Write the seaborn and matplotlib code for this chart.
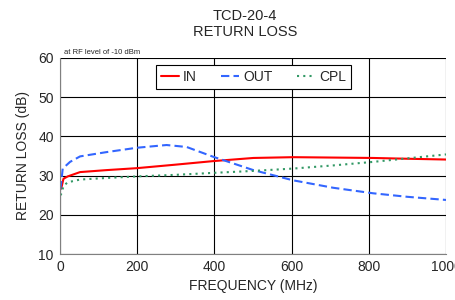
import pandas as pd
import matplotlib.pyplot as plt
import seaborn as sns

# values
freq_in = [1, 4, 9, 20, 52, 120, 199, 300, 397, 501, 604, 708, 811, 900, 1000]
rl_in = [26.5, 27.1, 29.2, 29.8, 30.9, 31.4, 31.9, 32.8, 33.7, 34.5, 34.7, 34.6, 34.5, 34.3, 34.1]

freq_out = [1, 4, 7, 26, 52, 121, 199, 276, 328, 397, 501, 604, 708, 811, 900, 1000]
rl_out = [26.5, 29.0, 31.8, 33.5, 34.9, 36.0, 37.1, 37.8, 37.3, 34.8, 31.4, 28.8, 26.9, 25.5, 24.6, 23.8]

freq_cpl = [1, 4, 9, 20, 52, 120, 199, 300, 397, 501, 604, 708, 811, 900, 1000]
rl_cpl = [25.0, 25.5, 27.4, 28.3, 29.0, 29.4, 29.8, 30.2, 30.7, 31.2, 31.8, 32.6, 33.5, 34.4, 35.4]

df = pd.concat([
    pd.DataFrame({'freq': freq_in, 'rl': rl_in, 'port': 'IN'}),
    pd.DataFrame({'freq': freq_out, 'rl': rl_out, 'port': 'OUT'}),
    pd.DataFrame({'freq': freq_cpl, 'rl': rl_cpl, 'port': 'CPL'}),
])

sns.set_style('white')
plt.rcParams['font.family'] = ['Liberation Sans', 'DejaVu Sans']

fig = plt.figure(figsize=(4.56, 3.0), dpi=100)
ax = fig.add_axes([0.1316, 0.153, 0.8465, 0.654])

palette = {'IN': '#ff0000', 'OUT': '#3366ff', 'CPL': '#339966'}
sns.lineplot(data=df, x='freq', y='rl', hue='port', style='port',
             palette=palette, dashes={'IN': '', 'OUT': (4, 2), 'CPL': (1, 2)},
             linewidth=1.5, ax=ax, legend=True)

ax.set_xlim(0, 1000)
ax.set_ylim(10, 60)
ax.set_xticks(range(0, 1001, 200))
ax.set_yticks(range(10, 61, 10))
ax.grid(True, color='black', linewidth=0.8)
for s in ax.spines.values():
    s.set_visible(False)
ax.spines['left'].set_visible(True)
ax.spines['bottom'].set_visible(True)
ax.spines['left'].set_color('#808080')
ax.spines['bottom'].set_color('#808080')
ax.tick_params(axis='both', direction='inout', length=5, width=0.8, color='black',
               labelsize=10, pad=2)
ax.set_xlabel('FREQUENCY (MHz)', fontsize=10, labelpad=3)
ax.set_ylabel('RETURN LOSS (dB)', fontsize=10, labelpad=6)

fig.text(0.537, 0.97, 'TCD-20-4\nRETURN LOSS', ha='center', va='top', fontsize=10.5,
         linespacing=1.15)
ax.text(0.01, 1.01, 'at RF level of -10 dBm', transform=ax.transAxes, fontsize=5.5,
        ha='left', va='bottom')

leg = ax.legend(loc='upper left', bbox_to_anchor=(0.249, 0.962), borderaxespad=0,
                ncol=3, fontsize=10, frameon=True, fancybox=False, edgecolor='black',
                framealpha=1, handlelength=1.3, handletextpad=0.25, columnspacing=1.8,
                borderpad=0.35)
leg.get_frame().set_linewidth(0.8)
for h in leg.get_lines():
    h.set_linewidth(1.5)

fig.savefig('out.png', dpi=100)
